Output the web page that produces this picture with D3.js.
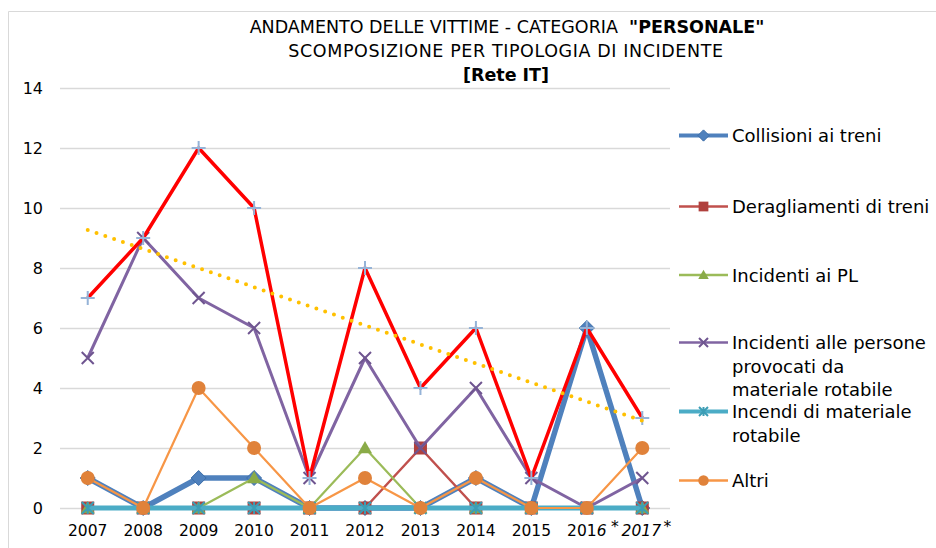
<!DOCTYPE html>
<html>
<head>
<meta charset="utf-8">
<script src="https://cdn.jsdelivr.net/npm/d3@7"></script>
<style>
  body { margin: 0; background: #fff; }
  text { font-family: 'DejaVu Sans', sans-serif; fill: #000; }
</style>
</head>
<body>
<div id="chart"></div>
<script>
const years = ['2007', '2008', '2009', '2010', '2011', '2012', '2013', '2014', '2015', '2016', '2017']
const yTicks = [0, 2, 4, 6, 8, 10, 12, 14]

const collisioni = [1, 0, 1, 1, 0, 0, 0, 1, 0, 6, 0]
const deragliamenti = [0, 0, 0, 0, 0, 0, 2, 0, 0, 0, 0]
const incidentiPL = [0, 0, 0, 1, 0, 2, 0, 0, 0, 0, 0]
const incidentiPersone = [5, 9, 7, 6, 1, 5, 2, 4, 1, 0, 1]
const incendi = [0, 0, 0, 0, 0, 0, 0, 0, 0, 0, 0]
const altri = [1, 0, 4, 2, 0, 1, 0, 1, 0, 0, 2]
const totale = [7, 9, 12, 10, 1, 8, 4, 6, 1, 6, 3]
// linear trend of the total, end values
const trendEnds = [9.27, 2.91]

const width = 936
const height = 548
const plotLeft = 60, plotRight = 670, plotTop = 88, plotBottom = 508

const svg = d3.select('#chart')
    .append('svg')
    .attr('width', width)
    .attr('height', height)

// chart frame
svg.append('path')
    .attr('d', `M8.5,${height} V11.5 H${width}`)
    .attr('fill', 'none')
    .attr('stroke', '#d9d9d9')
    .attr('stroke-width', 1)

const x = d3.scaleBand().domain(years).range([plotLeft, plotRight])
const cx = d => x(d) + x.bandwidth() / 2
const y = d3.scaleLinear().domain([0, 14]).range([plotBottom, plotTop])

// gridlines + y labels
const yAxis = d3.axisLeft(y).tickValues(yTicks).tickSize(-(plotRight - plotLeft)).tickPadding(17)
svg.append('g')
    .attr('transform', `translate(${plotLeft},0)`)
    .call(yAxis)
    .call(g => g.select('.domain').remove())
    .call(g => g.selectAll('line').attr('stroke', '#d9d9d9').attr('stroke-width', 1.5))
    .call(g => g.selectAll('text').attr('font-size', 16).attr('font-family', 'DejaVu Sans'))

// x labels
const xAxis = d3.axisBottom(x).tickSize(0).tickPadding(12).tickFormat(() => '')
const xg = svg.append('g')
    .attr('transform', `translate(0,${plotBottom})`)
    .call(xAxis)
xg.select('.domain').remove()
xg.selectAll('.tick text').each(function (d) {
    const t = d3.select(this)
        .attr('font-size', 15.5)
        .attr('font-family', 'DejaVu Sans')
        .attr('dy', '1.05em')
    if (d === '2016') {
        t.append('tspan').text('201')
        t.append('tspan').attr('font-style', 'italic').text('6')
    } else if (d === '2017') {
        t.attr('x', -1)
        t.append('tspan').attr('font-style', 'italic').text('2017')
    } else {
        t.text(d)
    }
    if (d === '2016' || d === '2017') {
        d3.select(this.parentNode).append('text')
            .attr('x', d === '2016' ? 28 : 25)
            .attr('y', 24)
            .attr('font-size', 15.5)
            .attr('text-anchor', 'middle')
            .text('*')
    }
})

const series = [
    { name: 'Collisioni ai treni', values: collisioni, color: '#4f81bd', w: 5.5, marker: 'diamond', mcolor: '#4f81bd' },
    { name: 'Deragliamenti di treni', values: deragliamenti, color: '#c0504d', w: 2.5, marker: 'square', mcolor: '#b0403d' },
    { name: 'Incidenti ai PL', values: incidentiPL, color: '#9bbb59', w: 2.2, marker: 'triangle', mcolor: '#8aab48' },
    { name: 'Incidenti alle persone|provocati da|materiale rotabile', values: incidentiPersone, color: '#8064a2', w: 3, marker: 'x', mcolor: '#6f5590' },
    { name: 'Incendi di materiale|rotabile', values: incendi, color: '#4bacc6', w: 5, marker: 'star', mcolor: '#3c9db5' },
    { name: 'Altri', values: altri, color: '#f79646', w: 2.2, marker: 'circle', mcolor: '#e0823a' }
]
const total = { values: totale, color: '#ff0000', w: 3.5, marker: 'plus', mcolor: '#95b3d7' }

const line = d3.line().x((d, i) => cx(years[i])).y(d => y(d))

function drawMarker(g, type, color, px, py, s) {
    if (type === 'diamond') {
        g.append('path').attr('d', `M${px},${py - s}L${px + s},${py}L${px},${py + s}L${px - s},${py}Z`)
            .attr('fill', color).attr('stroke', '#3d6ea8').attr('stroke-width', 1)
    } else if (type === 'square') {
        g.append('rect').attr('x', px - s).attr('y', py - s)
            .attr('width', s * 2).attr('height', s * 2).attr('fill', color)
    } else if (type === 'triangle') {
        g.append('path').attr('d', `M${px},${py - s}L${px + s},${py + s * 0.75}L${px - s},${py + s * 0.75}Z`)
            .attr('fill', color)
    } else if (type === 'x') {
        g.append('path').attr('d', `M${px - s},${py - s}L${px + s},${py + s}M${px + s},${py - s}L${px - s},${py + s}`)
            .attr('stroke', color).attr('stroke-width', 2)
    } else if (type === 'star') {
        g.append('path').attr('d', `M${px - s},${py - s}L${px + s},${py + s}M${px + s},${py - s}L${px - s},${py + s}M${px},${py - s}L${px},${py + s}`)
            .attr('stroke', color).attr('stroke-width', 2)
    } else if (type === 'circle') {
        g.append('circle').attr('cx', px).attr('cy', py).attr('r', s).attr('fill', color)
    } else if (type === 'plus') {
        g.append('path').attr('d', `M${px - s},${py}L${px + s},${py}M${px},${py - s}L${px},${py + s}`)
            .attr('stroke', color).attr('stroke-width', 2)
    }
}

const sizes = { diamond: 7.5, square: 6.5, triangle: 7, x: 6, star: 6, circle: 7, plus: 7 }

const plot = svg.append('g')
const all = series.concat([total])
all.forEach(s => {
    plot.append('path')
        .datum(s.values)
        .attr('d', line)
        .attr('fill', 'none')
        .attr('stroke', s.color)
        .attr('stroke-width', s.w)
        .attr('stroke-linejoin', 'round')
    s.values.forEach((v, i) => drawMarker(plot, s.marker, s.mcolor, cx(years[i]), y(v), sizes[s.marker]))
})

// trend line
svg.append('line')
    .attr('x1', cx(years[0])).attr('y1', y(trendEnds[0]))
    .attr('x2', cx(years[years.length - 1])).attr('y2', y(trendEnds[1]))
    .attr('stroke', '#ffc000')
    .attr('stroke-width', 4)
    .attr('stroke-linecap', 'round')
    .attr('stroke-dasharray', '0 9.3')

// legend
const legendY = [135.5, 206.5, 275, 342.5, 411.5, 480.5]
const legend = svg.append('g')
series.forEach((s, i) => {
    const ly = legendY[i]
    legend.append('line')
        .attr('x1', 679).attr('x2', 728).attr('y1', ly).attr('y2', ly)
        .attr('stroke', s.color).attr('stroke-width', s.w >= 5 ? 4 : 2.5)
    drawMarker(legend, s.marker, s.mcolor, 703.5, ly, sizes[s.marker] * 0.75)
    const t = legend.append('text')
        .attr('x', 732).attr('y', ly + 6.5)
        .attr('font-size', 18)
    s.name.split('|').forEach((part, k) => {
        t.append('tspan').attr('x', 732).attr('dy', k === 0 ? 0 : 23.5).text(part)
    })
})

// title
const title = svg.append('g').attr('font-size', 17.5)
const t1 = title.append('text').attr('x', 507).attr('y', 33).attr('text-anchor', 'middle')
t1.append('tspan').text('ANDAMENTO DELLE VITTIME - CATEGORIA\u00a0\u00a0')
t1.append('tspan').attr('font-weight', 'bold').text('"PERSONALE"')
title.append('text').attr('x', 506).attr('y', 57).attr('text-anchor', 'middle')
    .attr('letter-spacing', 0.6)
    .text('SCOMPOSIZIONE PER TIPOLOGIA DI INCIDENTE')
title.append('text').attr('x', 506).attr('y', 81).attr('text-anchor', 'middle')
    .attr('font-weight', 'bold').text('[Rete IT]')
</script>
</body>
</html>
